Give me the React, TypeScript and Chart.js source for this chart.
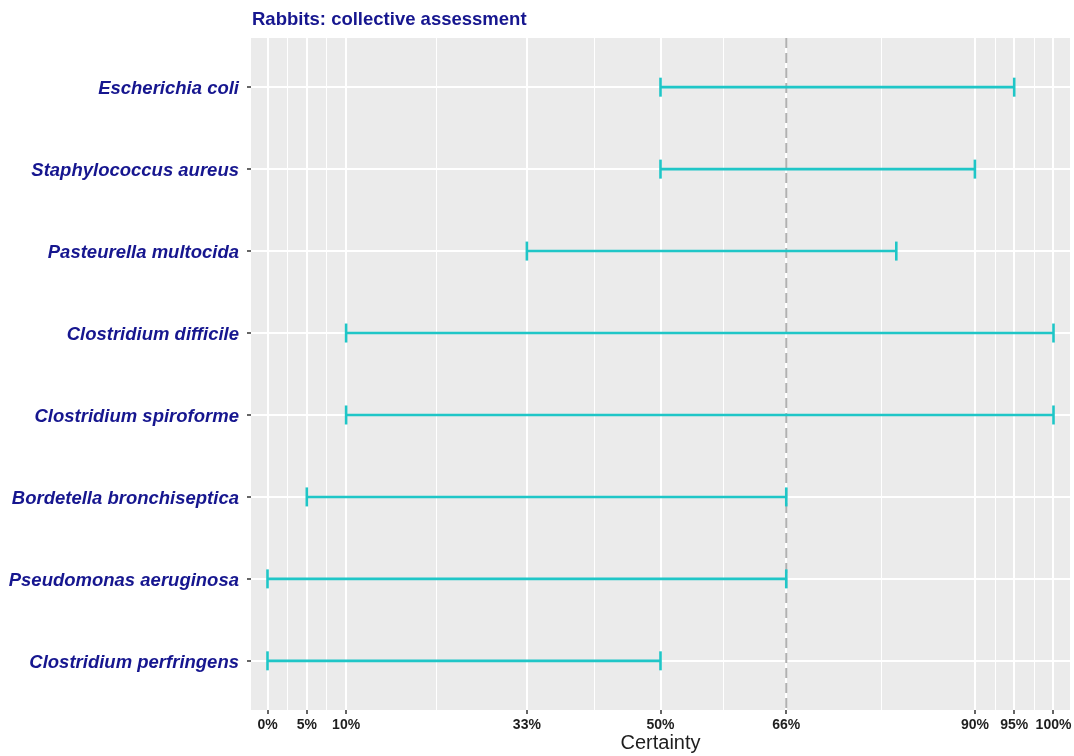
import React, { useEffect, useRef } from "react";
import { Chart, registerables } from "chart.js";

Chart.register(...registerables);

const titleText = "Rabbits: collective assessment";
const categories = [
  "Escherichia coli",
  "Staphylococcus aureus",
  "Pasteurella multocida",
  "Clostridium difficile",
  "Clostridium spiroforme",
  "Bordetella bronchiseptica",
  "Pseudomonas aeruginosa",
  "Clostridium perfringens",
];
const lowValues = [50, 50, 33, 10, 10, 5, 0, 0];
const highValues = [95, 90, 80, 100, 100, 66, 66, 50];
const xTicks = [0, 5, 10, 33, 50, 66, 90, 95, 100];
const refLine = 66;
const xAxisTitle = "Certainty";

const TEAL = "#1fc6c7";
const NAVY = "#16168f";
const PANEL = "#ebebeb";
const FONT = "'Liberation Sans', Arial, sans-serif";

export default function App() {
  const ref = useRef<HTMLCanvasElement | null>(null);

  useEffect(() => {
    document.body.style.margin = "0";
    const canvas = ref.current;
    if (!canvas) return;

    const yPos = categories.map((_, i) => i + 1);
    const minorTicks = xTicks.slice(0, -1).map((v, i) => (v + xTicks[i + 1]) / 2);

    const barDatasets = categories.map((c, i) => ({
      label: c,
      data: [
        { x: lowValues[i], y: yPos[i] },
        { x: highValues[i], y: yPos[i] },
      ],
      showLine: true,
      borderColor: TEAL,
      backgroundColor: TEAL,
      borderWidth: 2.6,
      pointStyle: "line" as const,
      rotation: 90,
      pointRadius: 9.5,
      pointBorderWidth: 2.6,
      pointBorderColor: TEAL,
      order: 0,
    }));

    const refDataset = {
      label: "ref",
      data: [
        { x: refLine, y: 0.4 },
        { x: refLine, y: categories.length + 0.6 },
      ],
      showLine: true,
      borderColor: "#b0b0b0",
      borderWidth: 2,
      borderDash: [10, 5],
      pointRadius: 0,
      order: 5,
    };

    const bgPlugin = {
      id: "panelBg",
      beforeDraw(chart: any) {
        const { ctx, chartArea } = chart;
        ctx.save();
        ctx.fillStyle = PANEL;
        ctx.fillRect(chartArea.left, chartArea.top, chartArea.right - chartArea.left, chartArea.bottom - chartArea.top);
        const xs = chart.scales.x;
        ctx.strokeStyle = "#ffffff";
        ctx.lineWidth = 1;
        minorTicks.forEach((v) => {
          const px = Math.round(xs.getPixelForValue(v)) + 0.5;
          ctx.beginPath();
          ctx.moveTo(px, chartArea.top);
          ctx.lineTo(px, chartArea.bottom);
          ctx.stroke();
        });
        ctx.restore();
      },
      afterDraw(chart: any) {
        const { ctx, chartArea } = chart;
        const ys = chart.scales.y;
        ctx.save();
        ctx.fillStyle = NAVY;
        ctx.font = `bold 18.5px ${FONT}`;
        ctx.textAlign = "left";
        ctx.textBaseline = "alphabetic";
        ctx.fillText(titleText, chartArea.left + 1, 25);
        ctx.font = `italic bold 18.5px ${FONT}`;
        ctx.textAlign = "right";
        categories.forEach((c, i) => {
          const py = ys.getPixelForValue(yPos[i]);
          ctx.fillText(c, ys.right - 12, py + 7);
        });
        ctx.restore();
      },
    };

    const chart = new Chart(canvas, {
      type: "scatter",
      data: { datasets: [...barDatasets, refDataset] as any },
      options: {
        animation: false,
        responsive: false,
        layout: { autoPadding: false, padding: { top: 38, right: 4, left: 0, bottom: 0 } },
        plugins: {
          legend: { display: false },
          tooltip: { enabled: false },
          title: { display: false },
        },
        scales: {
          x: {
            type: "linear",
            min: -2.1,
            max: 102.1,
            afterBuildTicks: (scale: any) => {
              scale.ticks = xTicks.map((v) => ({ value: v }));
            },
            afterFit: (scale: any) => {
              scale.height = 46;
              scale.paddingLeft = 0;
              scale.paddingRight = 0;
            },
            ticks: {
              callback: (v: any) => v + "%",
              color: "#1e1e1e",
              font: { family: FONT, size: 14, weight: "bold" },
              padding: 3,
              maxRotation: 0,
              autoSkip: false,
            },
            grid: {
              color: "#ffffff",
              lineWidth: 2,
              tickColor: "#333333",
              tickLength: 4,
              tickWidth: 1.5,
            },
            border: { display: false },
            title: {
              display: true,
              text: xAxisTitle,
              color: "#1e1e1e",
              font: { family: FONT, size: 20 },
              padding: { top: 0, bottom: 1 },
            },
          },
          y: {
            type: "linear",
            reverse: true,
            min: 0.4,
            max: categories.length + 0.6,
            afterBuildTicks: (scale: any) => {
              scale.ticks = yPos.map((v) => ({ value: v }));
            },
            afterFit: (scale: any) => {
              scale.width = 251;
              scale.paddingTop = 0;
              scale.paddingBottom = 0;
            },
            ticks: {
              display: false,
            },
            grid: {
              color: "#ffffff",
              lineWidth: 2,
              tickColor: "#333333",
              tickLength: 4,
              tickWidth: 1.5,
            },
            border: { display: false },
          },
        },
      },
      plugins: [bgPlugin],
    });

    return () => chart.destroy();
  }, []);

  return <canvas ref={ref} width={1074} height={756} style={{ display: "block" }} />;
}
